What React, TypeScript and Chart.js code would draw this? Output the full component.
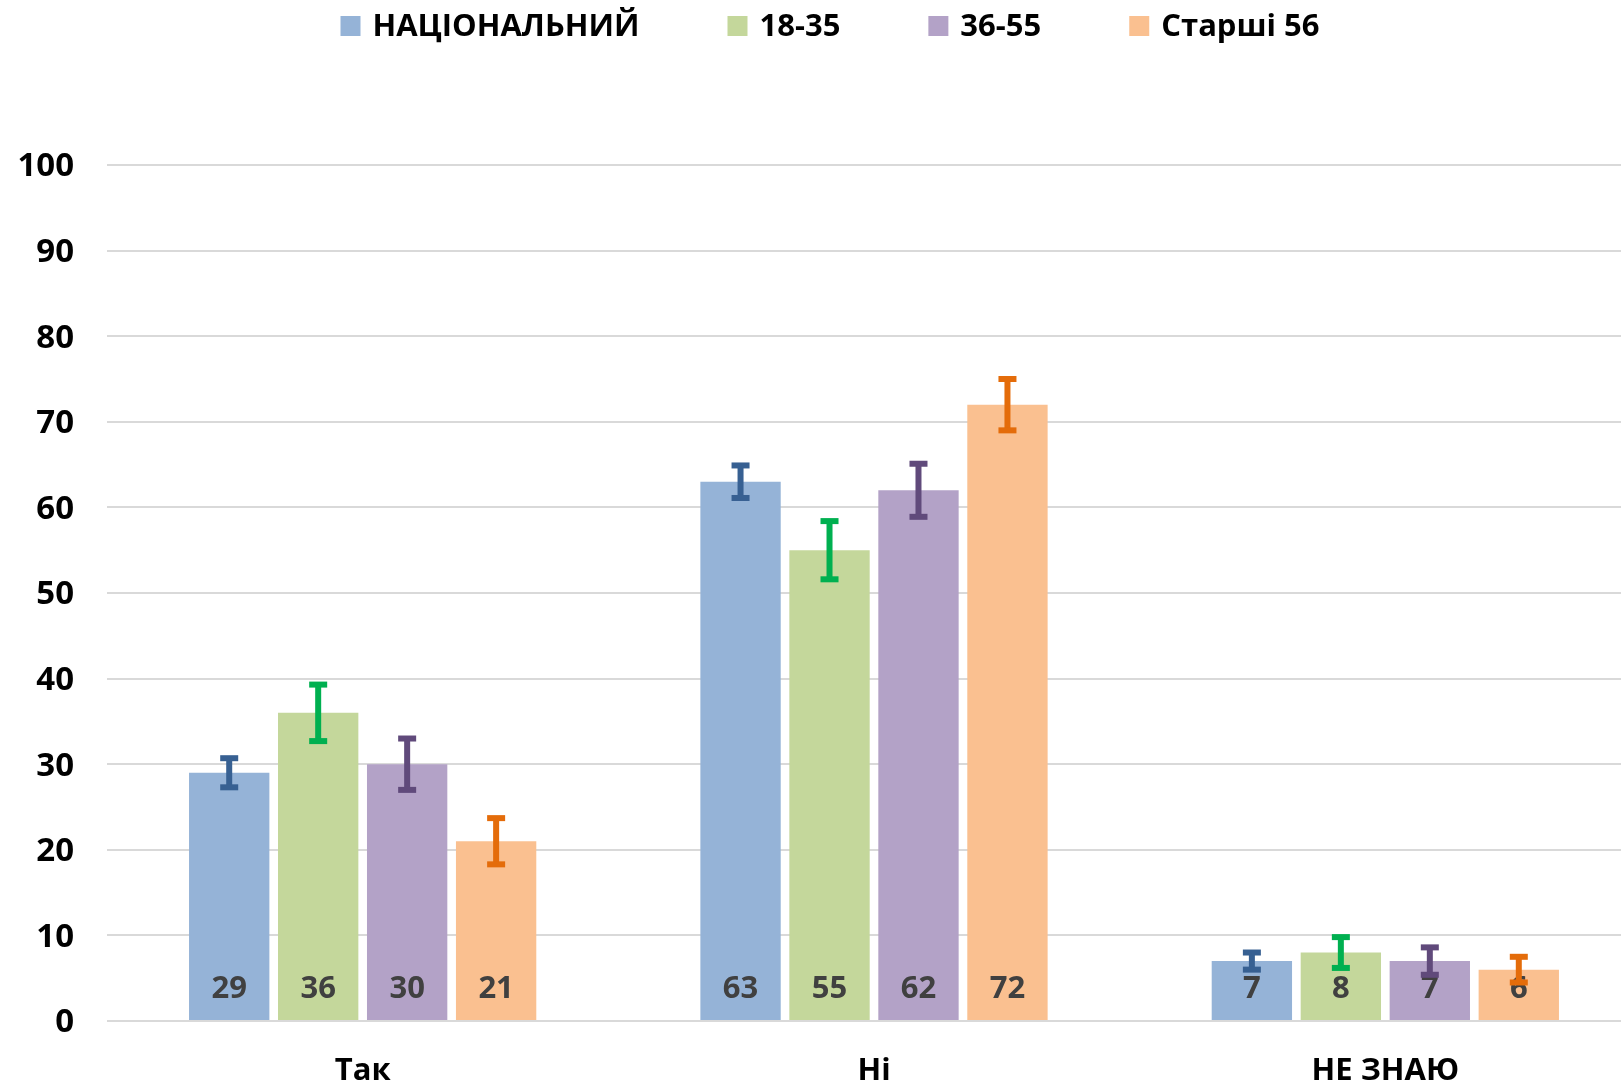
import React, { useEffect, useRef } from "react";
import { Chart, registerables } from "chart.js";

Chart.register(...registerables);

const categories = ["Так", "Ні", "НЕ ЗНАЮ"];
const seriesLabels = ["НАЦІОНАЛЬНИЙ", "18-35", "36-55", "Старші 56"];
const nationalValues = [29, 63, 7];
const youngValues = [36, 55, 8];
const middleValues = [30, 62, 7];
const olderValues = [21, 72, 6];
const nationalErrors = [1.7, 1.9, 1.0];
const youngErrors = [3.3, 3.4, 1.8];
const middleErrors = [3.0, 3.1, 1.6];
const olderErrors = [2.7, 3.0, 1.5];
const yTicks = [0, 10, 20, 30, 40, 50, 60, 70, 80, 90, 100];

const barColors = ["#95B3D7", "#C4D79B", "#B3A2C7", "#FAC090"];
const errorColors = ["#376092", "#00B050", "#604A7B", "#E46C0A"];

const FONT = "'Open Sans', 'Noto Sans', sans-serif";
const W = 1650;
const H = 1085;

const errorSets = [nationalErrors, youngErrors, middleErrors, olderErrors];

const legendPlugin = {
  id: "customLegend",
  afterDraw(chart: any) {
    const ctx = chart.ctx;
    const box = 20;
    const textGap = 12;
    const itemGap = 88;
    ctx.save();
    ctx.font = `bold 31px ${FONT}`;
    const widths = chart.data.datasets.map((d: any) => ctx.measureText(d.label).width);
    let total = 0;
    widths.forEach((w: number, i: number) => {
      total += box + textGap + w + (i < widths.length - 1 ? itemGap : 0);
    });
    let x = 830 - total / 2;
    const cy = 26;
    chart.data.datasets.forEach((d: any, i: number) => {
      ctx.fillStyle = d.backgroundColor;
      ctx.fillRect(x, cy - box / 2, box, box);
      ctx.fillStyle = "#000000";
      ctx.textAlign = "left";
      ctx.textBaseline = "middle";
      ctx.fillText(d.label, x + box + textGap, cy + 1);
      x += box + textGap + widths[i] + itemGap;
    });
    ctx.restore();
  },
};

const labelsAndErrorsPlugin = {
  id: "labelsAndErrors",
  afterDatasetsDraw(chart: any) {
    const ctx = chart.ctx;
    const yScale = chart.scales.y;
    const base = yScale.getPixelForValue(0);
    ctx.save();
    // value labels
    ctx.font = `bold 31px ${FONT}`;
    ctx.fillStyle = "#404040";
    ctx.textAlign = "center";
    ctx.textBaseline = "middle";
    chart.data.datasets.forEach((d: any, i: number) => {
      const meta = chart.getDatasetMeta(i);
      meta.data.forEach((bar: any, j: number) => {
        ctx.fillText(String(d.data[j]), bar.x, base - 32);
      });
    });
    // error bars
    chart.data.datasets.forEach((d: any, i: number) => {
      const meta = chart.getDatasetMeta(i);
      const errs = errorSets[i];
      ctx.fillStyle = errorColors[i];
      meta.data.forEach((bar: any, j: number) => {
        const v = d.data[j];
        const top = yScale.getPixelForValue(v + errs[j]);
        const bot = yScale.getPixelForValue(v - errs[j]);
        const x = bar.x;
        ctx.fillRect(x - 3, top, 6, bot - top);
        ctx.fillRect(x - 9, top - 3, 18, 6);
        ctx.fillRect(x - 9, bot - 3, 18, 6);
      });
    });
    ctx.restore();
  },
};

export default function App() {
  const ref = useRef<HTMLCanvasElement | null>(null);

  useEffect(() => {
    document.documentElement.style.overflow = "hidden";
    document.body.style.overflow = "hidden";
    const canvas = ref.current;
    if (!canvas) return;
    const datasets = [nationalValues, youngValues, middleValues, olderValues].map((vals, i) => ({
      label: seriesLabels[i],
      data: vals,
      backgroundColor: barColors[i],
      borderWidth: 0,
      categoryPercentage: 0.696,
      barPercentage: 0.903,
    }));
    const chart = new Chart(canvas, {
      type: "bar",
      data: { labels: categories, datasets },
      options: {
        responsive: false,
        animation: false,
        devicePixelRatio: 1,
        layout: { padding: { top: 165, right: 9, left: 0, bottom: 0 } },
        plugins: {
          legend: { display: false },
          tooltip: { enabled: false },
        },
        scales: {
          x: {
            grid: { display: false, drawTicks: false },
            border: { display: false },
            ticks: {
              color: "#000000",
              font: { family: FONT, size: 31, weight: "bold" },
              padding: 32,
            },
            afterFit: (s: any) => {
              s.height = 64;
            },
          },
          y: {
            min: 0,
            max: 100,
            afterBuildTicks: (s: any) => {
              s.ticks = yTicks.map((v) => ({ value: v }));
            },
            grid: { color: "#D9D9D9", lineWidth: 2, drawTicks: false },
            border: { display: false },
            ticks: {
              color: "#000000",
              font: { family: FONT, size: 33, weight: "bold" },
              padding: 33,
              labelOffset: 2,
            },
            afterFit: (s: any) => {
              s.width = 107;
            },
          },
        },
      },
      plugins: [legendPlugin, labelsAndErrorsPlugin],
    });
    return () => chart.destroy();
  }, []);

  return (
    <div style={{ position: "fixed", left: 0, top: 0, width: W, height: H, background: "#ffffff" }}>
      <canvas ref={ref} width={W} height={H} style={{ width: W, height: H, display: "block" }} />
    </div>
  );
}
